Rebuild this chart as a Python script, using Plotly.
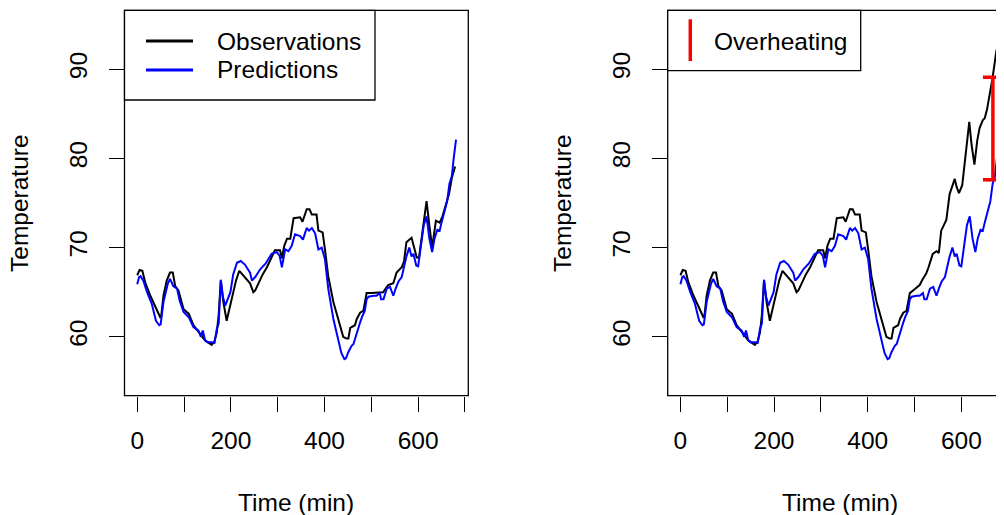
import plotly.graph_objects as go

# ---------------- data ----------------
# observations shared by both panels (min, degrees)
shared_obs_time = [0, 3, 5, 11, 17, 28, 38, 49, 51, 56, 63, 70, 76, 81, 88, 99, 105, 110, 120, 134,
                   145, 159, 165, 170, 174, 178.5, 184, 191, 202, 211, 218, 230, 241, 248, 252, 260,
                   268, 277, 287, 294, 305, 309, 314, 320, 327, 334, 348, 353, 362, 368, 373, 383,
                   387, 396, 401, 408, 419, 433, 440, 447, 451, 455, 465, 469, 476, 483, 490]
shared_obs_temp = [66.9, 67.4, 67.5, 67.4, 66.1, 64.6, 63.5, 62.2, 62.2, 64.6, 66.3, 67.2, 67.2, 65.7,
                   65.2, 63.1, 62.8, 62.6, 61.3, 60.4, 59.6, 59.1, 59.5, 60.5, 62.5, 66.3, 63.9, 61.8,
                   64.2, 66.3, 67.4, 66.7, 66.0, 65.0, 65.2, 66.1, 67.0, 67.8, 69.0, 69.7, 69.7, 68.8,
                   70.2, 71.0, 71.0, 73.3, 73.4, 72.9, 74.3, 74.3, 73.7, 73.7, 71.9, 71.7, 69.8, 66.8,
                   63.9, 61.3, 60.0, 59.8, 59.8, 61.0, 61.3, 62.0, 62.7, 62.9, 64.9]

# observations after t=490, normal case (left panel)
normal_obs_time = [500, 518, 525, 536, 547, 554, 565, 570, 575, 586, 592, 597, 602, 610, 618, 624,
                   630, 638, 646, 652, 661, 666, 672, 679]
normal_obs_temp = [64.9, 65.0, 65.0, 65.8, 66.0, 67.2, 67.8, 68.5, 70.6, 71.1, 70.0, 68.9, 68.9, 72.0,
                   75.2, 72.5, 70.0, 73.0, 72.8, 73.5, 75.1, 76.0, 77.8, 79.1]

# observations after t=490, overheating case (right panel)
heat_obs_time = [497, 505, 511, 518, 525, 530, 536, 539, 547, 552, 557, 562, 568, 575, 580, 586, 590,
                 595, 602, 610, 617, 622, 628, 634, 639, 646, 650, 655, 660, 667, 675, 680]
heat_obs_temp = [65.2, 65.5, 65.8, 66.5, 67.1, 67.8, 68.7, 69.3, 69.6, 69.4, 71.9, 72.5, 73.1, 76.0,
                 76.8, 77.7, 76.8, 76.1, 77.0, 80.5, 84.1, 81.5, 79.3, 82.0, 83.4, 84.3, 84.5, 85.5,
                 86.9, 89.1, 92.1, 92.7]

# predictions (same in both panels)
pred_time = [0, 4, 7, 13, 21, 31, 40, 47, 50, 56, 65, 70, 77, 85, 91, 99, 110, 120, 131, 136, 140,
             145, 150, 159, 165, 170, 174, 178.5, 183, 188, 199, 205, 213, 221, 230, 241, 245, 252,
             263, 274, 287, 298, 304, 309, 316, 323, 330, 337, 348, 354, 362, 367, 373, 380, 387,
             394, 401, 408, 419, 430, 436, 442.5, 446, 451, 458, 462, 469, 476, 480, 486, 490, 494,
             505, 511, 518, 521, 526, 533, 540, 547, 552, 558, 565, 568, 575, 581, 586, 590, 596,
             600, 606, 612, 618, 624, 630, 635, 641, 646, 650, 655, 658, 662, 667, 672, 676, 681]
pred_temp = [65.9, 66.7, 66.8, 66.3, 65.0, 63.7, 61.8, 61.3, 61.4, 63.9, 65.9, 66.5, 65.7, 65.4, 64.0,
             62.8, 62.2, 61.1, 60.7, 60.0, 60.7, 59.6, 59.4, 59.4, 59.3, 60.9, 61.5, 66.4, 64.5, 63.5,
             65.0, 67.0, 68.3, 68.5, 68.1, 67.2, 66.3, 66.7, 67.6, 68.2, 69.3, 69.5, 69.1, 67.8, 69.8,
             69.6, 70.2, 71.5, 71.3, 70.9, 72.2, 71.9, 72.2, 71.6, 69.8, 70.0, 68.7, 65.4, 62.0, 59.4,
             58.2, 57.5, 57.6, 58.3, 59.0, 59.2, 60.5, 61.6, 62.2, 62.9, 64.2, 64.5, 64.6, 64.6, 64.9,
             64.2, 64.2, 65.4, 65.6, 64.6, 65.4, 66.2, 66.7, 67.4, 69.0, 70.0, 69.0, 69.3, 68.0, 67.9,
             70.0, 72.5, 73.5, 71.0, 69.5, 71.0, 72.0, 71.9, 72.8, 73.9, 74.6, 75.2, 77.2, 78.0, 80.0,
             82.1]

# overheating gap marker
gap_time = [667.5]
gap_low = [77.6]
gap_high = [89.1]

x_ticks = [0, 100, 200, 300, 400, 500, 600, 700]
x_labels = ["0", "", "200", "", "400", "", "600", ""]
y_ticks = [60, 70, 80, 90]
y_labels = ["60", "70", "80", "90"]

# ---------------- layout helpers ----------------
OFF = 8  # page body margin
W, H = 1004 - OFF, 515 - OFF
FONT = "Liberation Sans, Arial, Helvetica, sans-serif"
FS = 24.5


def px(x):
    return (x - OFF) / W


def py(y):
    return 1 - (y - OFF) / H


left_x0, left_x1 = 124.5, 468.3
right_x0, right_x1 = 667.7, 1011.5
box_top, box_bot = 10.3, 395.7
x_scale = (left_x1 - left_x0) / (707.2 + 27.2)

obs_left_t = shared_obs_time + normal_obs_time
obs_left_v = shared_obs_temp + normal_obs_temp
obs_right_t = shared_obs_time + heat_obs_time
obs_right_v = shared_obs_temp + heat_obs_temp

fig = go.Figure()
fig.add_trace(go.Scatter(x=obs_left_t, y=obs_left_v, mode="lines",
                         line=dict(color="#000000", width=2), xaxis="x", yaxis="y",
                         showlegend=False, hoverinfo="skip"))
fig.add_trace(go.Scatter(x=pred_time, y=pred_temp, mode="lines",
                         line=dict(color="#0000FF", width=2), xaxis="x", yaxis="y",
                         showlegend=False, hoverinfo="skip"))
fig.add_trace(go.Scatter(x=obs_right_t, y=obs_right_v, mode="lines",
                         line=dict(color="#000000", width=2), xaxis="x2", yaxis="y2",
                         showlegend=False, hoverinfo="skip"))
fig.add_trace(go.Scatter(x=pred_time, y=pred_temp, mode="lines",
                         line=dict(color="#0000FF", width=2), xaxis="x2", yaxis="y2",
                         showlegend=False, hoverinfo="skip"))
fig.add_trace(go.Scatter(x=gap_time, y=gap_low, mode="markers",
                         marker=dict(size=1, color="rgba(0,0,0,0)"),
                         error_y=dict(type="data", symmetric=False,
                                      array=[h - l for h, l in zip(gap_high, gap_low)],
                                      arrayminus=[0] * len(gap_low),
                                      color="#FF0000", thickness=3.5, width=10),
                         xaxis="x2", yaxis="y2", showlegend=False, hoverinfo="skip"))

axis_common = dict(showgrid=False, zeroline=False, showline=False, ticks="outside",
                   ticklen=15, tickwidth=1.3, tickcolor="#000000",
                   tickfont=dict(family=FONT, size=FS, color="#000000"))

fig.update_layout(
    width=W, height=H,
    margin=dict(l=0, r=0, t=0, b=0),
    paper_bgcolor="white", plot_bgcolor="white",
    showlegend=False,
    xaxis=dict(domain=[px(left_x0), px(left_x1)], range=[-27.2, 707.2],
               tickvals=x_ticks, ticktext=x_labels, anchor="y",
               ticklabelstandoff=8, **axis_common),
    yaxis=dict(domain=[py(box_bot), py(box_top)], range=[53.4, 96.6],
               tickvals=y_ticks, ticktext=y_labels, tickangle=-90, anchor="x",
               ticklabelstandoff=12, **axis_common),
    xaxis2=dict(domain=[px(right_x0), 1.0], range=[-27.2, -27.2 + (1004 - right_x0) / x_scale],
                tickvals=x_ticks, ticktext=x_labels, anchor="y2",
                ticklabelstandoff=8, **axis_common),
    yaxis2=dict(domain=[py(box_bot), py(box_top)], range=[53.4, 96.6],
                tickvals=y_ticks, ticktext=y_labels, tickangle=-90, anchor="x2",
                ticklabelstandoff=12, **axis_common),
)

shapes = []
# plot boxes
for x0, x1 in [(left_x0, left_x1), (right_x0, right_x1)]:
    shapes.append(dict(type="rect", xref="paper", yref="paper",
                       x0=px(x0), x1=px(x1), y0=py(box_bot), y1=py(box_top),
                       line=dict(color="#000000", width=1.3), fillcolor="rgba(0,0,0,0)"))
# legend boxes
shapes.append(dict(type="rect", xref="paper", yref="paper",
                   x0=px(left_x0), x1=px(375), y0=py(100), y1=py(box_top),
                   line=dict(color="#000000", width=1.3), fillcolor="white"))
shapes.append(dict(type="rect", xref="paper", yref="paper",
                   x0=px(right_x0), x1=px(860.7), y0=py(70.7), y1=py(box_top),
                   line=dict(color="#000000", width=1.3), fillcolor="white"))
# legend keys
shapes.append(dict(type="line", xref="paper", yref="paper", x0=px(146), x1=px(193),
                   y0=py(41), y1=py(41), line=dict(color="#000000", width=3)))
shapes.append(dict(type="line", xref="paper", yref="paper", x0=px(146), x1=px(193),
                   y0=py(70), y1=py(70), line=dict(color="#0000FF", width=3)))
shapes.append(dict(type="line", xref="paper", yref="paper", x0=px(690.3), x1=px(690.3),
                   y0=py(19.3), y1=py(61), line=dict(color="#FF0000", width=3.5)))
fig.update_layout(shapes=shapes)

ann = []
tf = dict(family=FONT, size=FS, color="#000000")
ann.append(dict(text="Observations", x=px(215), y=py(41), xref="paper", yref="paper",
                xanchor="left", yanchor="middle", showarrow=False, font=tf))
ann.append(dict(text="Predictions", x=px(215), y=py(70), xref="paper", yref="paper",
                xanchor="left", yanchor="middle", showarrow=False, font=tf))
ann.append(dict(text="Overheating", x=px(712), y=py(41), xref="paper", yref="paper",
                xanchor="left", yanchor="middle", showarrow=False, font=tf))
for cx in [(left_x0 + left_x1) / 2, (right_x0 + right_x1) / 2]:
    ann.append(dict(text="Time (min)", x=px(cx), y=py(502), xref="paper", yref="paper",
                    xanchor="center", yanchor="middle", showarrow=False, font=tf))
for cx in [20, 563]:
    ann.append(dict(text="Temperature", x=px(cx), y=py((box_top + box_bot) / 2),
                    xref="paper", yref="paper", textangle=-90,
                    xanchor="center", yanchor="middle", showarrow=False, font=tf))
fig.update_layout(annotations=ann)

fig.write_html("out.html")
